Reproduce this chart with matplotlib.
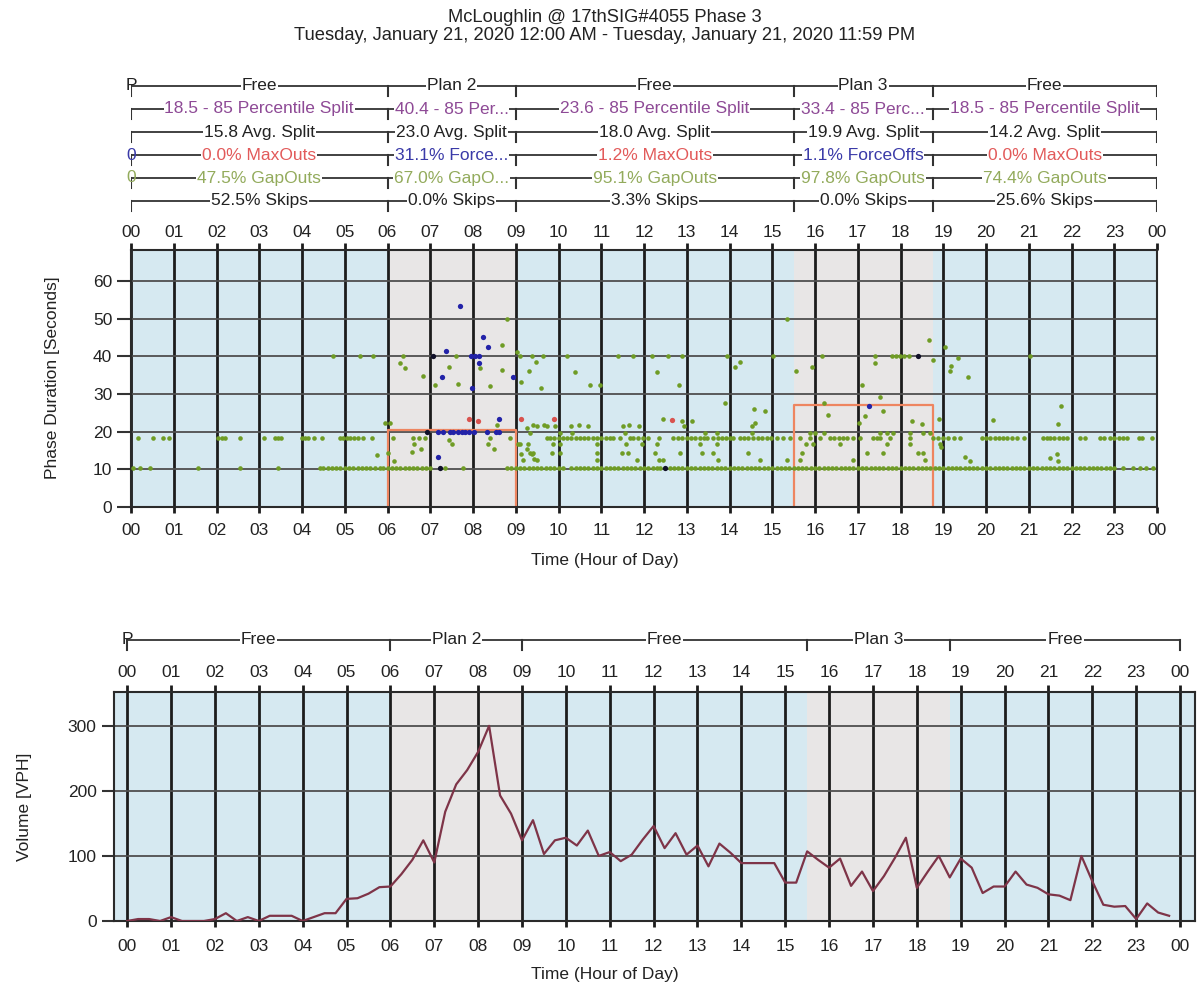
import matplotlib
matplotlib.use("Agg")
import matplotlib.pyplot as plt

plt.rcParams['font.family'] = ['Liberation Sans', 'DejaVu Sans']

W, H = 1199, 991
FS = 12.5
TXT = '#222222'

# ---- plans / annotation rows ----
plan_names = ['Free', 'Plan 2', 'Free', 'Plan 3', 'Free']
plan_starts = [0, 6, 9, 15.5, 18.75]
plan_ends = [6, 9, 15.5, 18.75, 24]
programmed_split = [None, 20.5, None, 27.0, None]

pct_split = ['18.5 - 85 Percentile Split', '40.4 - 85 Per...', '23.6 - 85 Percentile Split',
             '33.4 - 85 Perc...', '18.5 - 85 Percentile Split']
avg_split = ['15.8 Avg. Split', '23.0 Avg. Split', '18.0 Avg. Split', '19.9 Avg. Split', '14.2 Avg. Split']
term_text = ['0.0% MaxOuts', '31.1% Force...', '1.2% MaxOuts', '1.1% ForceOffs', '0.0% MaxOuts']
gap_text = ['47.5% GapOuts', '67.0% GapO...', '95.1% GapOuts', '97.8% GapOuts', '74.4% GapOuts']
skip_text = ['52.5% Skips', '0.0% Skips', '3.3% Skips', '0.0% Skips', '25.6% Skips']

PURPLE = '#8e4a96'
RED_T = '#e25a5a'
BLUE_T = '#3a3aa8'
OLIVE_T = '#93ab5c'

# ---- phase duration points (hour, seconds) ----
LOW_BAND = 10.3
MID_BAND = 18.3
TOP_BAND = 40.2

low_band_x = [0.05, 0.21, 0.44, 1.57, 2.55, 3.45,
              4.42, 4.5, 4.6, 4.7, 4.8, 4.9, 5.0, 5.1, 5.2, 5.3, 5.4, 5.5, 5.6, 5.7,
              5.82, 5.9, 6.0, 6.1, 6.2, 6.3, 6.4, 6.5, 6.6, 6.7, 6.8, 6.9, 7.0,
              7.35, 7.77,
              8.79, 8.9, 9.0, 9.1, 9.2, 9.3, 9.4, 9.5, 9.6, 9.7, 9.8, 9.9, 10.0, 10.1,
              10.3, 10.4, 10.5, 10.6, 10.7, 10.8, 10.9, 11.0, 11.1, 11.2, 11.3, 11.4, 11.5,
              11.6, 11.7, 11.8, 11.9, 12.0, 12.1, 12.2, 12.3, 12.38,
              12.6, 12.7, 12.8, 12.9, 13.0, 13.1, 13.2, 13.3, 13.4, 13.5, 13.6, 13.7, 13.8,
              13.9, 14.0, 14.1, 14.2, 14.3, 14.4, 14.5, 14.6, 14.7, 14.8, 14.9, 15.0, 15.1,
              15.2, 15.3, 15.4, 15.5, 15.6, 15.7, 15.8, 15.9, 16.0, 16.1, 16.2, 16.3, 16.4,
              16.5, 16.6, 16.7, 16.8, 16.9, 17.0, 17.1, 17.2, 17.3, 17.4, 17.5, 17.6, 17.7,
              17.8, 17.9, 18.0, 18.1, 18.2, 18.3, 18.4, 18.5, 18.6, 18.7, 18.8, 18.9, 19.0,
              19.1, 19.2, 19.3, 19.4, 19.5, 19.6, 19.7, 19.8, 19.9, 20.0, 20.1, 20.2, 20.3,
              20.4, 20.5, 20.6, 20.7, 20.8, 20.9, 21.0, 21.1, 21.2, 21.3, 21.4, 21.5, 21.6,
              21.7, 21.8, 21.9, 22.0, 22.1, 22.2, 22.3, 22.4, 22.5, 22.6, 22.7, 22.8, 22.9,
              23.0, 23.2, 23.45, 23.6, 23.75, 23.9]

mid_band_x = [0.16, 0.52, 0.76, 0.9, 2.04, 2.12, 2.2, 2.55, 3.1, 3.37, 3.45, 3.52,
              3.99, 4.07, 4.15, 4.27, 4.46, 4.89, 4.97, 5.05, 5.13, 5.21, 5.3, 5.43, 5.63,
              6.14, 6.6, 6.73, 6.88, 8.86,
              9.72, 9.8, 9.9, 10.0, 10.1, 10.2, 10.3, 10.4, 10.5, 10.6, 10.7, 10.8, 10.9,
              11.0, 11.1, 11.2, 11.28, 11.45, 11.67, 11.75, 11.85, 11.98, 12.1, 12.34,
              12.69, 12.8, 12.9, 13.0, 13.1, 13.2, 13.3, 13.4, 13.47, 13.62, 13.72, 13.82,
              13.92, 14.02, 14.09, 14.24, 14.34, 14.44, 14.56, 14.67, 14.77, 14.87, 14.97,
              15.1, 15.26, 15.41, 15.65, 15.88, 16.11, 16.35, 16.45, 16.55, 16.65, 16.75,
              16.9, 17.05, 17.36, 17.45, 17.52, 17.75, 18.22, 18.77, 18.87, 19.0, 19.1,
              19.25, 19.39, 19.9, 20.0, 20.1, 20.2, 20.3, 20.4, 20.5, 20.6, 20.72, 20.88,
              21.34, 21.42, 21.5, 21.6, 21.7, 21.8, 21.89, 22.2, 22.32, 22.67, 22.75,
              22.9, 23.0, 23.1, 23.2, 23.29, 23.57, 23.65, 23.88]

top_band_x = [4.73, 5.36, 5.67, 6.37, 7.6, 9.1, 9.37, 9.64, 10.19, 11.4, 11.75, 12.18,
              12.57, 12.88, 13.93, 15.02, 16.16, 17.4, 17.8, 17.9, 17.99, 18.09, 18.19, 21.03]

green_x = [6.29, 6.4, 6.82, 7.43, 7.11, 7.66, 8.4, 8.17, 8.67, 8.79, 9.02, 8.69, 9.12,
           9.31, 9.47, 9.59, 8.57, 5.94, 6.06, 6.63, 6.78, 6.58, 5.75, 6.0, 6.15, 7.45,
           7.52, 8.36, 8.48, 8.4, 9.05, 9.12, 9.27, 9.38, 9.42, 9.27, 9.4, 9.65,
           10.39, 10.74, 10.97, 12.3, 12.82, 13.9, 14.13, 14.25, 14.58, 14.82, 14.6,
           15.34, 15.56, 15.93, 16.22, 16.3, 17.1, 17.41, 17.52, 17.6, 17.17, 17.03,
           18.27, 18.5, 18.66, 18.77, 18.9, 12.45, 12.89, 13.13,
           9.49, 9.72, 9.91, 10.3, 10.49, 10.7, 11.5, 11.65, 11.88, 12.93, 14.52,
           9.33, 10.03, 10.31, 11.56, 13.43, 13.7, 14.52, 15.88, 16.0, 16.2, 17.52,
           17.68, 17.83, 18.22, 18.53, 18.69,
           9.1, 9.29, 9.88, 10.04, 10.89, 11.59, 11.95, 12.3, 13.31, 13.7, 15.8, 15.96,
           16.58, 17.68, 18.22, 18.92,
           9.33, 9.41, 9.84, 10.04, 10.89, 11.48, 11.63, 12.26, 12.84, 13.35, 13.62,
           14.44, 15.69, 17.21, 17.6, 18.42, 18.53,
           9.18, 9.49, 10.89, 11.83, 12.34, 12.45, 13.74, 14.71, 15.34, 15.65, 16.9, 18.57,
           19.04, 19.35, 19.19, 19.15, 19.59, 20.17, 21.75, 21.69, 21.5, 21.66, 21.68,
           19.51, 19.63, 18.95]
green_y = [38.1, 37.0, 34.8, 37.2, 32.4, 32.6, 32.2, 36.8, 43.0, 49.8, 41.2, 36.3, 33.2,
           36.0, 38.5, 31.5, 21.7, 22.4, 22.4, 16.8, 15.5, 14.6, 13.7, 14.2, 12.2, 17.7,
           16.6, 16.6, 15.5, 18.4, 16.6, 14.1, 15.3, 14.0, 12.7, 21.0, 21.7, 21.7,
           35.9, 32.4, 32.4, 35.9, 32.4, 27.5, 37.1, 38.4, 26.0, 25.5, 22.4,
           49.8, 36.2, 37.2, 27.7, 24.4, 32.4, 38.1, 29.1, 25.5, 24.2, 22.4,
           22.8, 22.1, 44.3, 39.0, 23.4, 23.4, 22.8, 22.8,
           21.5, 21.5, 21.5, 21.5, 21.8, 21.5, 21.5, 21.8, 21.5, 21.5, 21.5,
           19.6, 19.6, 19.6, 19.6, 19.6, 19.6, 19.6, 19.6, 19.6, 19.6, 19.6,
           19.6, 19.6, 19.6, 19.6, 19.6,
           16.6, 16.6, 16.6, 16.6, 16.6, 16.6, 16.6, 16.6, 16.6, 16.6, 16.6, 16.6,
           16.6, 16.6, 16.6, 16.6,
           14.2, 14.2, 14.2, 14.2, 14.2, 14.2, 14.2, 14.2, 14.2, 14.2, 14.2,
           14.2, 14.2, 14.2, 14.2, 14.2, 14.2,
           12.5, 12.5, 12.5, 12.5, 12.5, 12.5, 12.5, 12.5, 12.5, 12.5, 12.5, 12.5,
           42.5, 39.6, 37.3, 36.1, 34.6, 23.1, 26.9, 22.0, 13.1, 14.0, 12.3,
           13.2, 12.3, 16.0]

forceoff_x = [7.70, 8.23, 8.36, 7.38, 7.95, 8.05, 8.15, 8.14, 8.93, 7.27, 7.97, 8.6,
              7.19, 7.3, 7.46, 7.54, 7.66, 7.74, 7.82, 7.9, 8.02, 8.33, 8.53, 8.61, 7.17, 17.26]
forceoff_y = [53.3, 45.2, 42.5, 41.4, 40.2, 40.2, 40.2, 38.1, 34.4, 34.4, 31.5, 23.3,
              20.0, 20.0, 20.0, 20.0, 20.0, 20.0, 20.0, 20.0, 20.0, 20.0, 20.0, 20.0, 13.2, 26.9]
maxout_x = [7.91, 8.12, 9.12, 9.9, 12.65]
maxout_y = [23.3, 22.9, 23.3, 23.3, 23.0]
dark_x = [7.06, 6.92, 7.23, 12.49, 18.4]
dark_y = [40.1, 20.0, 10.3, 10.3, 40.2]

# ---- volume (15 min bins) ----
vol_hours = [0.0, 0.25, 0.5, 0.75, 1.0, 1.25, 1.5, 1.75, 2.0, 2.25, 2.5, 2.75,
             3.0, 3.25, 3.5, 3.75, 4.0, 4.25, 4.5, 4.75, 5.0, 5.25, 5.5, 5.75,
             6.0, 6.25, 6.5, 6.75, 7.0, 7.25, 7.5, 7.75, 8.0, 8.25, 8.5, 8.75,
             9.0, 9.25, 9.5, 9.75, 10.0, 10.25, 10.5, 10.75, 11.0, 11.25, 11.5, 11.75,
             12.0, 12.25, 12.5, 12.75, 13.0, 13.25, 13.5, 13.75, 14.0, 14.25, 14.5, 14.75,
             15.0, 15.25, 15.5, 15.75, 16.0, 16.25, 16.5, 16.75, 17.0, 17.25, 17.5, 17.75,
             18.0, 18.25, 18.5, 18.75, 19.0, 19.25, 19.5, 19.75, 20.0, 20.25, 20.5, 20.75,
             21.0, 21.25, 21.5, 21.75, 22.0, 22.25, 22.5, 22.75, 23.0, 23.25, 23.5, 23.75]
vol_vph = [0, 3, 3, 0, 6, 0, 0, 0, 3, 12, 0, 6,
           0, 8, 8, 8, 0, 6, 12, 12, 34, 35, 42, 52,
           53, 72, 94, 124, 90, 168, 210, 232, 260, 300, 193, 165,
           124, 155, 103, 124, 128, 116, 139, 100, 106, 92, 102, 125,
           146, 112, 135, 102, 116, 84, 119, 105, 89, 89, 89, 89,
           59, 59, 107, 94, 82, 96, 54, 76, 46, 69, 97, 128,
           51, 76, 100, 67, 96, 82, 43, 53, 53, 76, 56, 51,
           41, 39, 32, 100, 61, 25, 22, 23, 3, 27, 13, 8]

hour_ticks = list(range(25))
hour_labels = ['%02d' % (h % 24) for h in hour_ticks]

BLUE_BG = '#d6e9f1'
GRAY_BG = '#e8e6e6'
VLINE = '#1c1c1c'
HLINE = '#4f4f4f'


def px_box(left, top, right, bottom):
    return [left / W, 1 - bottom / H, (right - left) / W, (bottom - top) / H]


def shade_plans(ax):
    ax.set_facecolor(BLUE_BG)
    for name, s, e in zip(plan_names, plan_starts, plan_ends):
        if name != 'Free':
            ax.axvspan(s, e, color=GRAY_BG, lw=0, zorder=0)


def style_axes(ax, yticks, ylen, bottom_pad, top_len, top_pad):
    ax.set_axisbelow(True)
    ax.set_xticks(hour_ticks)
    ax.set_xticklabels(hour_labels)
    ax.set_yticks(yticks)
    ax.grid(axis='x', color=VLINE, lw=2.0)
    ax.grid(axis='y', color=HLINE, lw=1.3)
    ax.tick_params(axis='x', direction='out', length=4.3, width=2, color=VLINE,
                   pad=bottom_pad, labelsize=FS, labelcolor=TXT)
    ax.tick_params(axis='y', direction='out', length=ylen, width=1.5, color='#333333',
                   pad=3.5, labelsize=FS, labelcolor=TXT)
    for s in ax.spines.values():
        s.set_color('#2a2a2a')
        s.set_linewidth(1.5)
    sec = ax.secondary_xaxis('top')
    sec.set_xticks(hour_ticks)
    sec.set_xticklabels(hour_labels)
    sec.tick_params(direction='out', length=top_len, width=2, color=VLINE, pad=top_pad,
                    labelsize=FS, labelcolor=TXT)
    sec.spines['top'].set_visible(False)


def draw_row(ax, y, texts, colors, tick=10):
    for s, e, t, c in zip(plan_starts, plan_ends, texts, colors):
        ax.plot([s, e], [y, y], color='#333333', lw=1.3, zorder=1, solid_capstyle='butt')
        ax.text((s + e) / 2, y, t, color=c, ha='center', va='center', fontsize=FS, zorder=2,
                bbox=dict(fc='white', ec='none', pad=0.6))
    for b in plan_starts + [plan_ends[-1]]:
        ax.plot([b, b], [y, y + tick], color='#333333', lw=1.5, zorder=3)


fig = plt.figure(figsize=(W / 100, H / 100), dpi=100)

fig.text(605 / W, 1 - 17 / H, 'McLoughlin @ 17thSIG#4055 Phase 3', ha='center', va='center',
         fontsize=13.2, color=TXT)
fig.text(605 / W, 1 - 35 / H,
         'Tuesday, January 21, 2020 12:00 AM - Tuesday, January 21, 2020 11:59 PM',
         ha='center', va='center', fontsize=13.2, color=TXT)

# ---- top annotation rows ----
ann1 = fig.add_axes(px_box(131, 70, 1157, 222))
ann1.set_xlim(0, 24)
ann1.set_ylim(222, 70)
ann1.axis('off')
row_y = [86, 109, 132, 155, 178, 201]
draw_row(ann1, row_y[0], plan_names, [TXT] * 5)
draw_row(ann1, row_y[1], pct_split, [PURPLE] * 5)
draw_row(ann1, row_y[2], avg_split, [TXT] * 5)
term_colors = [RED_T if 'Max' in t else BLUE_T for t in term_text]
draw_row(ann1, row_y[3], term_text, term_colors)
draw_row(ann1, row_y[4], gap_text, [OLIVE_T] * 5)
draw_row(ann1, row_y[5], skip_text, [TXT] * 5)
for ry, mark, c in [(row_y[0], 'P', TXT), (row_y[3], '0', BLUE_T), (row_y[4], '0', OLIVE_T)]:
    ann1.text(0, ry, mark, ha='center', va='center', fontsize=FS, color=c, zorder=4)

# ---- phase duration chart ----
ax1 = fig.add_axes(px_box(131, 250, 1157, 507))
shade_plans(ax1)
ax1.set_xlim(0, 24)
ax1.set_ylim(0, 68.2)
style_axes(ax1, [0, 10, 20, 30, 40, 50, 60], 10, 7.0, 5, 2.5)

for s, e, sp in zip(plan_starts, plan_ends, programmed_split):
    if sp is not None:
        ax1.plot([s, s, e, e], [0, sp, sp, 0], color='#ee8560', lw=1.6, zorder=2)

ms = 3.3
ax1.plot(low_band_x, [LOW_BAND] * len(low_band_x), 'o', color='#6f9c25', ms=ms, mew=0, zorder=3)
ax1.plot(mid_band_x, [MID_BAND] * len(mid_band_x), 'o', color='#6f9c25', ms=ms, mew=0, zorder=3)
ax1.plot(top_band_x, [TOP_BAND] * len(top_band_x), 'o', color='#6f9c25', ms=ms, mew=0, zorder=3)
ax1.plot(green_x, green_y, 'o', color='#6f9c25', ms=ms, mew=0, zorder=3)
ax1.plot(forceoff_x, forceoff_y, 'o', color='#2222a8', ms=ms + 0.5, mew=0, zorder=4)
ax1.plot(maxout_x, maxout_y, 'o', color='#d9534f', ms=ms + 0.5, mew=0, zorder=4)
ax1.plot(dark_x, dark_y, 'o', color='#101028', ms=ms + 0.5, mew=0, zorder=4)

fig.text(53 / W, 1 - 378 / H, 'Phase Duration [Seconds]', rotation=90, ha='center', va='center',
         fontsize=FS, color=TXT)
fig.text(605 / W, 1 - 560 / H, 'Time (Hour of Day)', ha='center', va='center', fontsize=FS, color=TXT)

# ---- bottom annotation row ----
XL = (-0.3, 24.34)
ann2 = fig.add_axes(px_box(114, 620, 1195, 662))
ann2.set_xlim(*XL)
ann2.set_ylim(662, 620)
ann2.axis('off')
draw_row(ann2, 640, plan_names, [TXT] * 5)
ann2.text(0, 640, 'P', ha='center', va='center', fontsize=FS, color=TXT, zorder=4)

# ---- volume chart ----
ax2 = fig.add_axes(px_box(114, 692, 1195, 921))
shade_plans(ax2)
ax2.set_xlim(*XL)
ax2.set_ylim(0, 352)
style_axes(ax2, [0, 100, 200, 300], 9, 9.0, 5, 3.5)
ax2.plot(vol_hours, vol_vph, color='#7e3448', lw=1.6, zorder=3)

fig.text(25 / W, 1 - 807 / H, 'Volume [VPH]', rotation=90, ha='center', va='center',
         fontsize=FS, color=TXT)
fig.text(605 / W, 1 - 975 / H, 'Time (Hour of Day)', ha='center', va='center', fontsize=FS, color=TXT)

fig.savefig('out.png', dpi=100, facecolor='white')
